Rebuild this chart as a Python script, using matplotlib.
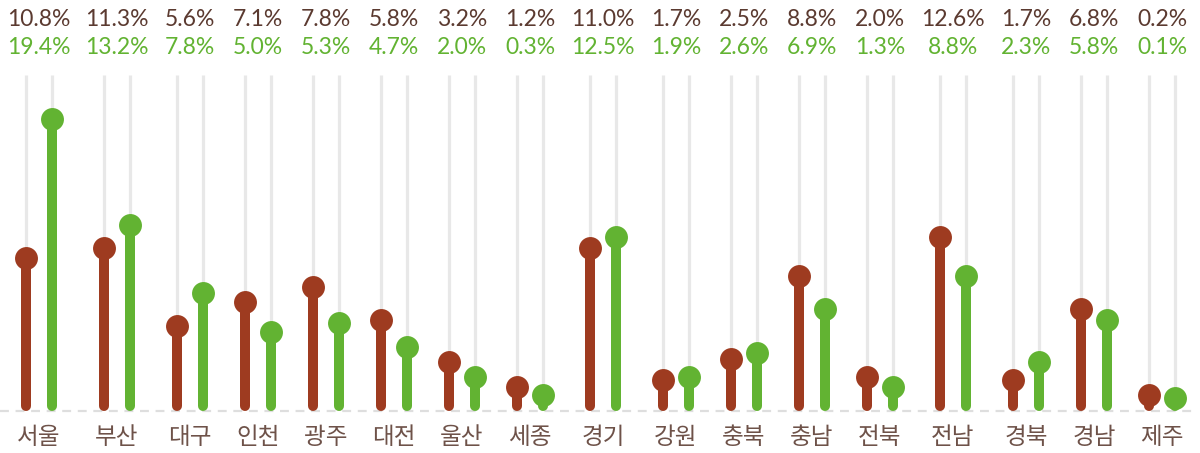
import matplotlib
matplotlib.use("Agg")
import matplotlib.pyplot as plt
import numpy as np

# ---- data ----
regions = ["서울", "부산", "대구", "인천", "광주", "대전", "울산", "세종", "경기",
           "강원", "충북", "충남", "전북", "전남", "경북", "경남", "제주"]
labels_a = ["10.8%", "11.3%", "5.6%", "7.1%", "7.8%", "5.8%", "3.2%", "1.2%", "11.0%",
            "1.7%", "2.5%", "8.8%", "2.0%", "12.6%", "1.7%", "6.8%", "0.2%"]
labels_b = ["19.4%", "13.2%", "7.8%", "5.0%", "5.3%", "4.7%", "2.0%", "0.3%", "12.5%",
            "1.9%", "2.6%", "6.9%", "1.3%", "8.8%", "2.3%", "5.8%", "0.1%"]
# plotted stem heights
values_a = [10.2, 10.9, 5.7, 7.3, 8.3, 6.1, 3.3, 1.6, 10.9,
            2.1, 3.5, 9.0, 2.3, 11.6, 2.1, 6.8, 1.1]
values_b = [19.5, 12.4, 7.9, 5.3, 5.9, 4.3, 2.3, 1.1, 11.6,
            2.3, 3.9, 6.8, 1.6, 9.0, 3.3, 6.1, 0.9]

COL_A = "#9e3b20"
COL_B = "#62b332"
TXT_A = "#5b3a30"
TXT_CAT = "#6e5249"
GRID = "#e8e8e8"

plt.rcParams['font.family'] = ['Noto Sans CJK KR', 'DejaVu Sans']

W, H = 1200, 453
fig = plt.figure(figsize=(W / 100, H / 100), dpi=100)
base_px = 411
top_px = 75
ax = fig.add_axes([0, (H - base_px) / H, 1, (base_px - top_px) / H])
px_per_unit = 15.0
ymax = (base_px - top_px) / px_per_unit
ax.set_ylim(0, ymax)

# column widths follow the width of the percentage labels (layout, in px)
colw = np.array([68 + 10 * (max(len(a), len(b)) - 4) for a, b in zip(labels_a, labels_b)])
c0 = 39
centers = c0 + np.concatenate([[0], np.cumsum((colw[:-1] + colw[1:]) / 2)])
ax.set_xlim(0, W)
ax.axis("off")

off = 13.25
cap = 5 / px_per_unit
for i, (va, vb) in enumerate(zip(values_a, values_b)):
    for x, v, col in ((centers[i] - off, va, COL_A), (centers[i] + off, vb, COL_B)):
        ax.plot([x, x], [0, ymax], color=GRID, lw=2.3, zorder=1, solid_capstyle="butt")
        ax.plot([x, x], [cap, v], color=col, lw=7.2, zorder=3, solid_capstyle="round")
        ax.plot([x], [v], marker="o", ms=16.5, color=col, mec="none", zorder=4)

ax.plot([0, W - 8], [0, 0], color="#dedede", lw=1.6,
        linestyle=(0, (4, 3)), zorder=0, clip_on=False)

for i in range(len(regions)):
    fx = centers[i] / W
    fig.text(fx, 1 - 20 / H, labels_a[i], ha="center", va="center",
             fontsize=16.5, color=TXT_A, family=["Lato", "DejaVu Sans"])
    fig.text(fx, 1 - 48 / H, labels_b[i], ha="center", va="center",
             fontsize=16.5, color=COL_B, family=["Lato", "DejaVu Sans"])
    fig.text(fx, 1 - 438 / H, regions[i], ha="center", va="center",
             fontsize=17, color=TXT_CAT, fontweight="light")

fig.savefig("out.png", dpi=100)
